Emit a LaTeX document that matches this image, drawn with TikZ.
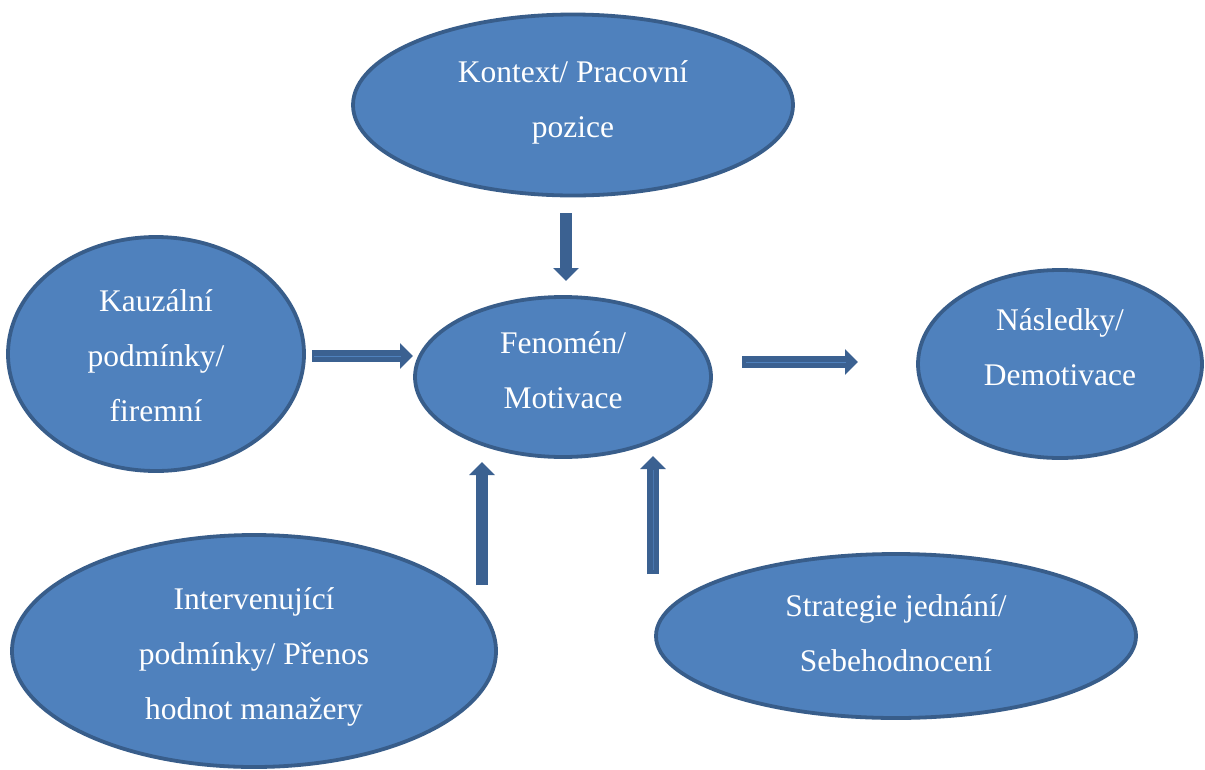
\documentclass[tikz,border=0pt]{standalone}
\usepackage{fontspec}
\setmainfont{Liberation Serif}
\usetikzlibrary{shapes.geometric,arrows.meta}
\definecolor{ellfill}{HTML}{4F81BD}
\definecolor{ellline}{HTML}{385D8A}
\definecolor{arrfill}{HTML}{3B6191}
\tikzset{
  ell/.style={ellipse, draw=ellline, fill=ellfill, line width=3.8pt, inner sep=0pt},
  txt/.style={text=white, align=center, font=\fontsize{31.5}{55}\selectfont},
  blockarrow/.style={draw=arrfill, line width=12pt, -{Triangle[length=13pt,width=25pt]}},
  innerline/.style={draw=ellfill, line width=1pt},
}
\begin{document}
\begin{tikzpicture}[x=1pt,y=-1pt]
\useasboundingbox (0,0) rectangle (1205,769);
\fill[white] (0,0) rectangle (1205,769);
% ellipses
\node[ell, minimum width=440, minimum height=181] (kontext) at (573,105) {};
\node[ell, minimum width=296, minimum height=234] (kauz) at (156,354) {};
\node[ell, minimum width=296, minimum height=160] (fenomen) at (563,377) {};
\node[ell, minimum width=284, minimum height=188] (nasl) at (1060,364) {};
\node[ell, minimum width=484, minimum height=232] (interv) at (254,651) {};
\node[ell, minimum width=480, minimum height=164] (strat) at (896,636) {};
% texts
\node[txt] (tkontext) at (573,102) {Kontext/ Pracovní\\pozice};
\node[txt] (tkauz) at (156,356) {Kauzální\\podmínky/\\firemní};
\node[txt] (tfenomen) at (563,370) {Fenomén/\\Motivace};
\node[txt] (tnasl) at (1060,347) {Následky/\\Demotivace};
\node[txt] (tinterv) at (254,657) {Intervenující\\podmínky/ Přenos\\hodnot manažery};
\node[txt] (tstrat) at (896,633) {Strategie jednání/\\Sebehodnocení};
% arrow end points
\coordinate (a1s) at (566,213);
\coordinate (a1e) at (566,281);
\coordinate (a2s) at (312,356);
\coordinate (a2e) at (413,356);
\coordinate (a3s) at (742,362);
\coordinate (a3e) at (858,362);
\coordinate (a4s) at (482,585);
\coordinate (a4e) at (482,462);
\coordinate (a5s) at (653,574);
\coordinate (a5e) at (653,456);
% arrows
\draw[blockarrow] (a1s) -- (a1e);
\draw[blockarrow] (a2s) -- (a2e);
\draw[blockarrow] (a3s) -- (a3e);
\draw[blockarrow] (a4s) -- (a4e);
\draw[blockarrow] (a5s) -- (a5e);
\draw[innerline, shorten >=12pt, shorten <=2pt] (a2s) -- (a2e);
\draw[innerline, shorten >=12pt, shorten <=4pt] (a3s) -- (a3e);
\draw[innerline, draw=ellfill!70!arrfill, shorten >=14pt, shorten <=4pt] (a5s) -- (a5e);
\end{tikzpicture}
\end{document}
